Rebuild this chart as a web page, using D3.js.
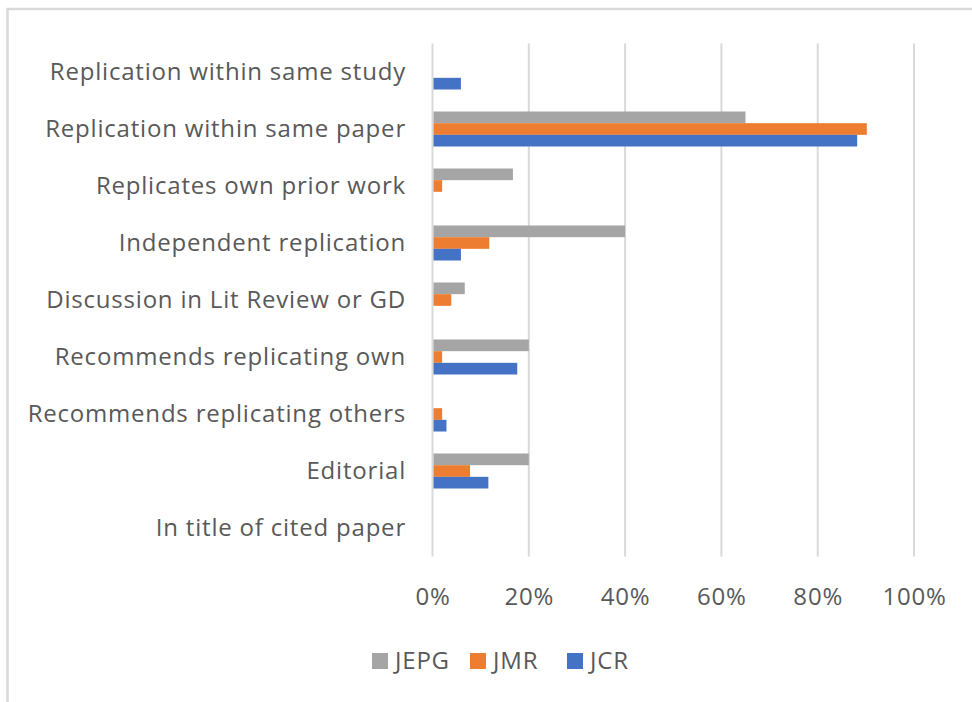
<!DOCTYPE html>
<html>
<head>
<meta charset="utf-8">
<script src="https://cdn.jsdelivr.net/npm/d3@7"></script>
<style>
  html, body { margin: 0; padding: 0; background: #fff; }
  svg { display: block; }
  text { font-family: "Open Sans", sans-serif; fill: #595959; font-size: 24px; letter-spacing: 0.8px; }
</style>
</head>
<body>
<svg id="chart" width="972" height="702"></svg>
<script>
// Share of papers mentioning replication, by type, per journal (%)
const categories = [
  "Replication within same study",
  "Replication within same paper",
  "Replicates own prior work",
  "Independent replication",
  "Discussion in Lit Review or GD",
  "Recommends replicating own",
  "Recommends replicating others",
  "Editorial",
  "In title of cited paper"
];
const seriesNames = ["JEPG", "JMR", "JCR"];
const jepg = [0, 65, 16.7, 40, 6.7, 20, 0, 20, 0];
const jmr  = [0, 90.2, 2.0, 11.8, 3.9, 2.0, 2.0, 7.8, 0];
const jcr  = [5.9, 88.2, 0, 5.9, 0, 17.6, 2.9, 11.6, 0];
const tickValues = [0, 20, 40, 60, 80, 100];
const colors = ["#a5a5a5", "#ed7d31", "#4472c4"];

const seriesValues = [jepg, jmr, jcr];

const svg = d3.select("#chart");

// outer chart frame
svg.append("rect")
  .attr("x", 7.5).attr("y", 9)
  .attr("width", 1200).attr("height", 900)
  .attr("fill", "none")
  .attr("stroke", "#d9d9d9")
  .attr("stroke-width", 2.5);

const plot = { left: 432.5, right: 914, top: 43.5, bottom: 556.5 };

const x = d3.scaleLinear().domain([0, 100]).range([plot.left, plot.right]);
const y = d3.scaleBand().domain(categories).range([plot.top, plot.bottom])
  .paddingInner(0.386).paddingOuter(0.193);
const ySub = d3.scaleBand().domain(seriesNames).range([0, y.bandwidth()]);

// vertical gridlines
svg.append("g")
  .selectAll("line")
  .data(tickValues)
  .join("line")
  .attr("x1", d => x(d)).attr("x2", d => x(d))
  .attr("y1", plot.top).attr("y2", plot.bottom)
  .attr("stroke", "#d9d9d9")
  .attr("stroke-width", 2);

// bars
const groups = svg.append("g")
  .selectAll("g")
  .data(categories)
  .join("g")
  .attr("transform", d => `translate(0,${y(d)})`);

groups.selectAll("rect")
  .data((d, i) => seriesNames.map((s, k) => ({ s, v: seriesValues[k][i], k })))
  .join("rect")
  .attr("x", x(0) + 1)
  .attr("y", d => ySub(d.s))
  .attr("width", d => Math.max(0, x(d.v) - x(0) - 1))
  .attr("height", ySub.bandwidth())
  .attr("fill", d => colors[d.k]);

// category labels
const yAxis = d3.axisLeft(y).tickSize(0).tickPadding(0);
const gy = svg.append("g")
  .attr("transform", `translate(406,0)`)
  .call(yAxis);
gy.select(".domain").remove();
gy.selectAll("text")
  .attr("font-size", null).attr("font-family", null)
  .attr("fill", "#595959")
  .attr("dy", "0.35em");
gy.attr("font-size", null).attr("font-family", null);

// percentage axis labels
const xAxis = d3.axisBottom(x).tickValues(tickValues)
  .tickFormat(d => d + "%").tickSize(0).tickPadding(0);
const gx = svg.append("g")
  .attr("transform", `translate(0,605)`)
  .call(xAxis);
gx.select(".domain").remove();
gx.attr("font-size", null).attr("font-family", null);
gx.selectAll("text")
  .attr("fill", "#595959")
  .attr("dy", 0);

// legend
const legendX = [372, 470, 567];
const legend = svg.append("g")
  .selectAll("g")
  .data(seriesNames)
  .join("g")
  .attr("transform", (d, i) => `translate(${legendX[i]},653)`);
legend.append("rect")
  .attr("width", 16).attr("height", 16)
  .attr("fill", (d, i) => colors[i]);
legend.append("text")
  .attr("x", 23).attr("y", 16)
  .text(d => d);
</script>
</body>
</html>
